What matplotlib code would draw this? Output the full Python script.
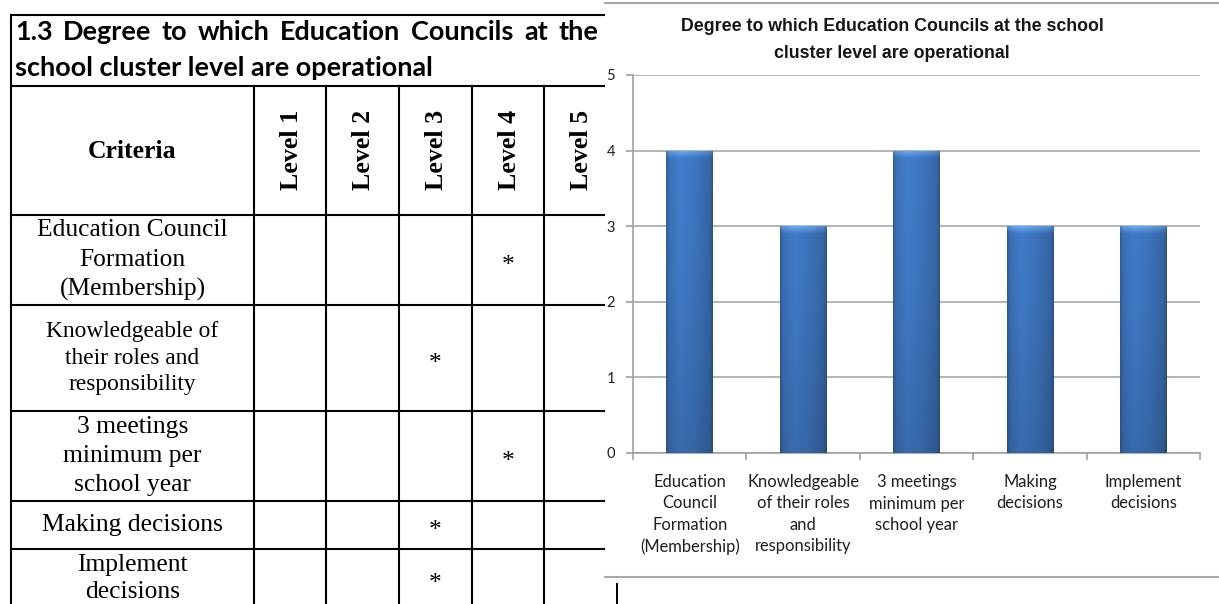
import numpy as np
import matplotlib
matplotlib.use("Agg")
import matplotlib.pyplot as plt
from matplotlib.transforms import blended_transform_factory

# ---- data -------------------------------------------------------------
table_heading = ["1.3 Degree to which Education Councils at the",
                 "school cluster level are operational"]
criteria_header = "Criteria"
level_labels = ["Level 1", "Level 2", "Level 3", "Level 4", "Level 5"]
criteria_rows = [
    ["Education Council", "Formation", "(Membership)"],
    ["Knowledgeable of", "their roles and", "responsibility"],
    ["3 meetings", "minimum per", "school year"],
    ["Making decisions"],
    ["Implement", "decisions"],
]
criteria_labels = [
    ["Education", "Council", "Formation", "(Membership)"],
    ["Knowledgeable", "of their roles", "and", "responsibility"],
    ["3 meetings", "minimum per", "school year"],
    ["Making", "decisions"],
    ["Implement", "decisions"],
]
levels = [4, 3, 4, 3, 3]
chart_title = ["Degree to which Education Councils at the school",
               "cluster level are operational"]
y_ticks = [0, 1, 2, 3, 4, 5]

# ---- canvas -----------------------------------------------------------
W, H, DPI = 1219, 604, 100
fig = plt.figure(figsize=(W / DPI, H / DPI), dpi=DPI, facecolor="white")
page = fig.add_axes([0, 0, 1, 1])
page.set_xlim(0, W)
page.set_ylim(H, 0)
page.axis("off")
renderer = fig.canvas.get_renderer()


def text_width(s, size, **font):
    t = page.text(0, 0, s, fontsize=size, **font)
    w = t.get_window_extent(renderer=renderer).width
    t.remove()
    return w


def fit_size(s, target_px, **font):
    return 10.0 * target_px / text_width(s, 10.0, **font)


# ---- table ------------------------------------------------------------
LW = 1.5
x_left = 11
col_edges = [254, 326, 399, 472, 544, 617]
row_edges = [15, 86, 215, 305, 411, 501, 549, 607]

for y in row_edges[:-1]:
    page.plot([x_left, col_edges[-1]], [y, y], color="black", lw=LW,
              solid_capstyle="projecting", zorder=2)
page.plot([x_left, x_left], [row_edges[0], H + 5], color="black", lw=LW, zorder=2)
for x in col_edges:
    page.plot([x, x], [row_edges[1], H + 5], color="black", lw=LW, zorder=2)

# heading (bold sans, first line justified)
head_font = dict(family="Lato", weight="bold")
head_size = fit_size(table_heading[1], 420, **head_font)
words = table_heading[0].split()
widths = [text_width(w_, head_size, **head_font) for w_ in words]
x0, x1 = 15, 598
gap = (x1 - x0 - sum(widths)) / (len(words) - 1)
x = x0
for w_, wd in zip(words, widths):
    page.text(x, 40.5, w_, fontsize=head_size, ha="left", va="baseline",
              color="black", zorder=3, **head_font)
    x += wd + gap
page.text(x0, 76, table_heading[1], fontsize=head_size, ha="left",
          va="baseline", color="black", zorder=3, **head_font)

serif = dict(family="Liberation Serif")
crit_cx = (x_left + col_edges[0]) / 2
header_cy = (row_edges[1] + row_edges[2]) / 2 + 1
page.text(crit_cx, header_cy, criteria_header, fontsize=18.5, weight="bold",
          ha="center", va="center", zorder=3, **serif)
col_centers = [(a + b) / 2 for a, b in zip(col_edges[:-1], col_edges[1:])]
for cx, lab in zip(col_centers, level_labels):
    page.text(cx + 1, header_cy - 2, lab, fontsize=18.7, weight="bold",
              rotation=90, ha="center", va="center", zorder=3, **serif)

for i, (lines, lvl) in enumerate(zip(criteria_rows, levels)):
    top, bot = row_edges[i + 2], row_edges[i + 3]
    cy = (top + bot) / 2
    size, pitch = (16.8, 26.5) if i == 1 else (18.4, 29.5)
    if i == len(criteria_rows) - 1:
        pitch = 27
    n = len(lines)
    for k, ln in enumerate(lines):
        y = cy + (k - (n - 1) / 2) * pitch
        page.text(crit_cx, y, ln, fontsize=size, ha="center", va="center",
                  zorder=3, **serif)
    page.text(col_centers[lvl - 1], cy + 12, "*", fontsize=18.4,
              ha="center", va="baseline", zorder=3, **serif)

# ---- chart panel ------------------------------------------------------
panel_x = 605
page.add_patch(plt.Rectangle((panel_x, -5), W - panel_x + 5, H + 10,
                             facecolor="white", edgecolor="none", zorder=5))
page.plot([panel_x, W], [3, 3], color="#a8a8a8", lw=1.5, zorder=6)
page.plot([panel_x, W], [577, 577], color="#a8a8a8", lw=1.5, zorder=6)
page.plot([617, 617], [584, H + 2], color="black", lw=1.4, zorder=6)

title_font = dict(family="Liberation Sans", weight="bold")
title_size = fit_size(chart_title[0], 421, **title_font)
for y, ln in zip([31, 58.5], chart_title):
    page.text(892, y, ln, fontsize=title_size, ha="center", va="baseline",
              color="#151515", zorder=6, **title_font)

ax_l, ax_r, ax_t, ax_b = 633, 1200, 75, 453
ax = fig.add_axes([ax_l / W, (H - ax_b) / H, (ax_r - ax_l) / W, (ax_b - ax_t) / H])
ax.set_facecolor("none")

xs = np.arange(len(levels))
bar_w = 0.41
bars = ax.bar(xs, levels, width=bar_w, color="#3a6fb4", zorder=3)

# shaded fill for each bar (light top cap, darker edges and base)
base = np.array([0x3d, 0x74, 0xbc]) / 255.0
light = np.array([0x62, 0xa0, 0xe6]) / 255.0
u = np.linspace(0, 1, 60)
hprof = np.interp(u, [0, 0.06, 0.3, 0.65, 0.94, 1.0], [0.80, 0.97, 1.08, 1.0, 0.88, 0.74])
for b, v in zip(bars, levels):
    yy = np.linspace(v, 0, 400)
    d_top = v - yy
    vprof = np.interp(yy / 5.0, [0, 0.4, 1.0], [0.86, 0.96, 1.04])
    cap = np.clip(1 - d_top / 0.1, 0, 1)
    fac = vprof[:, None] * hprof[None, :]
    img = base[None, None, :] * fac[:, :, None]
    img = img * (1 - cap[:, None, None]) + light[None, None, :] * cap[:, None, None] * hprof[None, :, None]
    img = np.clip(img, 0, 1)
    x_b = b.get_x()
    im = ax.imshow(img, extent=[x_b, x_b + bar_w, 0, v], aspect="auto",
                   interpolation="bilinear", zorder=3.5)
    im.set_clip_path(b)

ax.set_xlim(-0.5, len(levels) - 0.5)
ax.set_ylim(0, 5)
ax.set_yticks(y_ticks)
ax.set_xticks(np.arange(len(levels) + 1) - 0.5)
ax.set_xticklabels([])
ax.yaxis.grid(True, color="#a8a8a8", lw=1.2, zorder=0)
ax.set_axisbelow(True)
for side in ("top", "right"):
    ax.spines[side].set_visible(False)
for side in ("left", "bottom"):
    ax.spines[side].set_color("#a0a0a0")
    ax.spines[side].set_linewidth(1.2)
ax.tick_params(axis="both", direction="out", length=5, width=1.2, color="#a0a0a0")
ax.tick_params(axis="y", pad=8, labelsize=10.5, labelcolor="#1e1e1e")
for t in ax.get_yticklabels():
    t.set_family("Lato")

lab_font = dict(family="Lato")
lab_size = 0.5 * (fit_size("Knowledgeable", 110, **lab_font) +
                  fit_size("(Membership)", 102, **lab_font))
trans = blended_transform_factory(ax.transData, page.transData)
for x, lines in zip(xs, criteria_labels):
    for k, ln in enumerate(lines):
        ax.text(x, 482 + 21.5 * k, ln, transform=trans, fontsize=lab_size,
                ha="center", va="center", color="#1e1e1e", clip_on=False,
                **lab_font)

fig.savefig("out.png", dpi=DPI, facecolor="white")
